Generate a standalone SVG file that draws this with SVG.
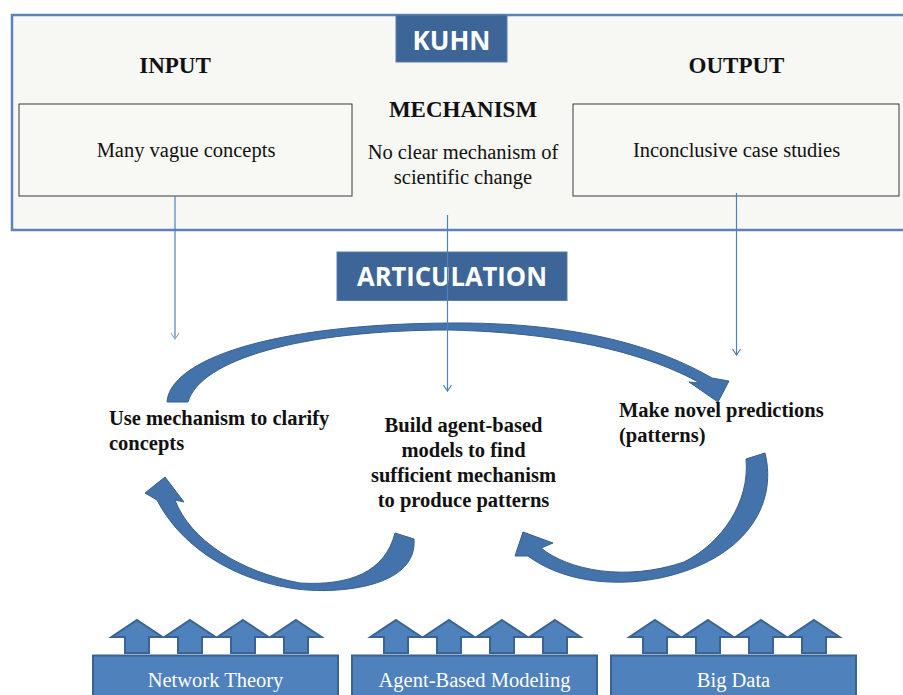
<svg xmlns="http://www.w3.org/2000/svg" width="903" height="695" viewBox="0 0 903 695">
<defs>
<style>
.serif{font-family:"Liberation Serif","Times New Roman",serif;fill:#111}
.b{font-weight:bold}
.lbl{font-family:"Open Sans","Liberation Sans",sans-serif;font-weight:bold;fill:#fff}
.box{fill:#f8f8f5;stroke:#3a3a3a;stroke-width:1}
.thin{stroke:#4f81bd;stroke-width:1.2;fill:none}
.big{fill:#4472ab;stroke:#38608f;stroke-width:1}
.blk{fill:#4f81bd;stroke:#3b6391;stroke-width:2}
.wt{font-family:"Liberation Serif","Times New Roman",serif;font-size:20.5px;fill:#fff;text-anchor:middle}
</style>
<marker id="open" viewBox="0 0 10 10" refX="9" refY="5" markerWidth="10" markerHeight="10" markerUnits="userSpaceOnUse" orient="auto">
<path d="M3,1 L9,5 L3,9" fill="none" stroke="#4f81bd" stroke-width="1.2"/>
</marker>
<marker id="openL" viewBox="0 0 10 10" refX="9" refY="5" markerWidth="10" markerHeight="10" markerUnits="userSpaceOnUse" orient="auto">
<path d="M3,1 L9,5 L3,9" fill="none" stroke="#8fb0d8" stroke-width="1.2"/>
</marker>
<path id="up" d="M0,0 L25.5,17 L12,17 L12,33 L-12,33 L-12,17 L-25.5,17 Z" class="blk"/>
<linearGradient id="g1" x1="0" y1="0" x2="1" y2="0">
<stop offset="0" stop-color="#3f6699"/><stop offset="1" stop-color="#4a7bb8"/>
</linearGradient>
</defs>
<rect width="903" height="695" fill="#fff"/>

<g id="kuhn-panel">
<rect x="12" y="15" width="900" height="215" fill="#f7f7f3" stroke="#5b84b9" stroke-width="2.5"/>
</g>
<g id="kuhn-label">
<rect x="396" y="15" width="111" height="47" fill="#3d6597" stroke="#5a7fb0" stroke-width="1"/>
<text x="451.5" y="50" class="lbl" font-size="26" text-anchor="middle">KUHN</text>
</g>
<g id="input">
<text x="175" y="72.5" class="serif b" font-size="23" text-anchor="middle">INPUT</text>
<rect x="19" y="104" width="333" height="92" class="box"/>
<text x="186" y="157" class="serif" font-size="20.5" text-anchor="middle">Many vague concepts</text>
</g>
<g id="mechanism">
<text x="463" y="116.5" class="serif b" font-size="23" text-anchor="middle">MECHANISM</text>
<text x="463" y="159" class="serif" font-size="20.5" text-anchor="middle">No clear mechanism of</text>
<text x="463" y="183.5" class="serif" font-size="20.5" text-anchor="middle">scientific change</text>
</g>
<g id="output">
<text x="736.5" y="72.5" class="serif b" font-size="23" text-anchor="middle">OUTPUT</text>
<rect x="573" y="104" width="326" height="92" class="box"/>
<text x="736.5" y="157" class="serif" font-size="20.5" text-anchor="middle">Inconclusive case studies</text>
</g>

<g id="articulation">
<rect x="337" y="252" width="230" height="48.5" fill="#3d6597" stroke="#5a7fb0" stroke-width="1"/>
<text x="452" y="286" class="lbl" font-size="26" text-anchor="middle" textLength="190" lengthAdjust="spacingAndGlyphs">ARTICULATION</text>
</g>

<g id="connectors">
<path class="big" fill="url(#g1)" d="M167,402 C170,360 270,324 450,323 C580,322 660,348 712,378 L729,381 L718,402 L689,382 L700,383 C650,355 570,333 450,330 C300,330 200,360 188,402 Z"/>
<path class="big" d="M765,453 C778,505 745,560 660,578 C610,588 560,580 528,556 L515,556 L523,532 L553,543 L541,548 C568,570 625,582 684,562 C722,543 750,502 746,459 Z"/>
<path class="big" d="M414,539 C418,590 330,595 290,588 C230,578 180,545 157,500 L145,493 L165,477 L184,502 L175,500 C190,540 240,572 300,583 C350,586 385,572 395,533 Z"/>
<line x1="175" y1="196" x2="175" y2="339" class="thin" stroke="#8fb0d8" marker-end="url(#openL)"/>
<line x1="447.5" y1="215" x2="447.5" y2="391" class="thin" marker-end="url(#open)"/>
<line x1="736.5" y1="193" x2="736.5" y2="355" class="thin" marker-end="url(#open)"/>
</g>

<g id="step-clarify">
<text x="109" y="425" class="serif b" font-size="20.5">Use mechanism to clarify</text>
<text x="109" y="450" class="serif b" font-size="20.5">concepts</text>
</g>
<g id="step-build">
<text x="463.5" y="432" class="serif b" font-size="20.5" text-anchor="middle">Build agent-based</text>
<text x="463.5" y="457" class="serif b" font-size="20.5" text-anchor="middle">models to find</text>
<text x="463.5" y="482" class="serif b" font-size="20.5" text-anchor="middle">sufficient mechanism</text>
<text x="463.5" y="507" class="serif b" font-size="20.5" text-anchor="middle">to produce patterns</text>
</g>
<g id="step-predict">
<text x="619" y="417" class="serif b" font-size="20.5">Make novel predictions</text>
<text x="619" y="442" class="serif b" font-size="20.5">(patterns)</text>
</g>

<g id="network-theory">
<use href="#up" x="137" y="620"/><use href="#up" x="190" y="620"/><use href="#up" x="243" y="620"/><use href="#up" x="296" y="620"/>
<rect x="93" y="655.5" width="245" height="50" class="blk"/>
<text x="215.5" y="687" class="wt">Network Theory</text>
</g>
<g id="agent-based-modeling">
<use href="#up" x="396" y="620"/><use href="#up" x="449" y="620"/><use href="#up" x="502" y="620"/><use href="#up" x="555" y="620"/>
<rect x="352" y="655.5" width="245" height="50" class="blk"/>
<text x="474.5" y="687" class="wt">Agent-Based Modeling</text>
</g>
<g id="big-data">
<use href="#up" x="655" y="620"/><use href="#up" x="708" y="620"/><use href="#up" x="761" y="620"/><use href="#up" x="814" y="620"/>
<rect x="611" y="655.5" width="245" height="50" class="blk"/>
<text x="733.5" y="687" class="wt">Big Data</text>
</g>
</svg>
